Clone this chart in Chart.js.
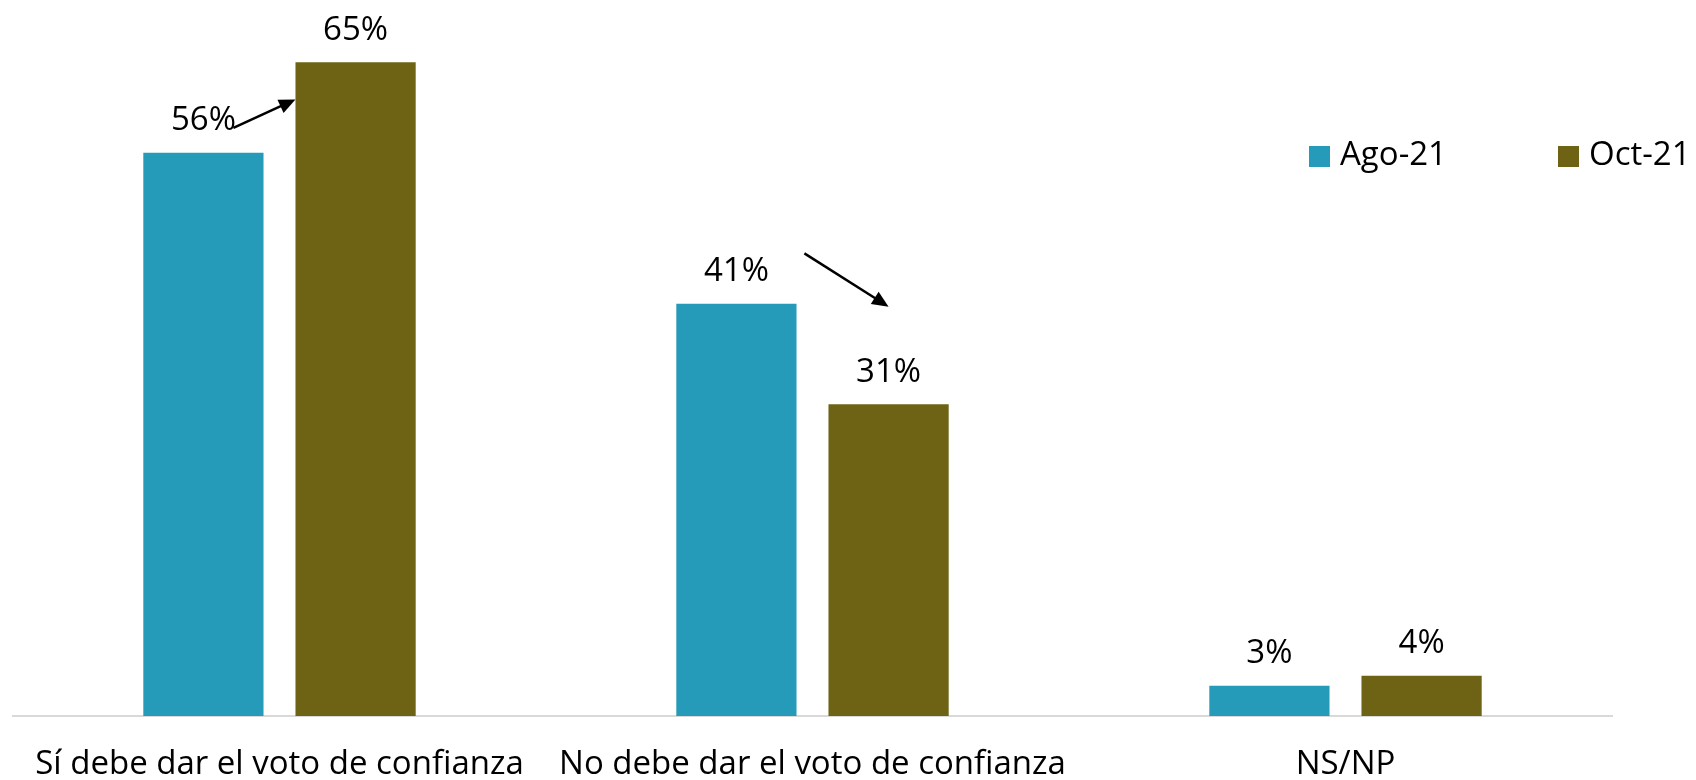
<!DOCTYPE html>
<html>
<head>
<meta charset="utf-8">
<script src="https://cdn.jsdelivr.net/npm/chart.js@4.4.1/dist/chart.umd.min.js"></script>
<style>
  html, body { margin: 0; padding: 0; background: #fff; }
  #wrap { width: 1696px; height: 780px; }
</style>
</head>
<body>
<div id="wrap"><canvas id="chart"></canvas></div>
<script>
const categories = ['Sí debe dar el voto de confianza', 'No debe dar el voto de confianza', 'NS/NP'];
const seriesNames = ['Ago-21', 'Oct-21'];
const ago21 = [56, 41, 3];
const oct21 = [65, 31, 4];
const colors = ['#259bb9', '#6e6314'];

const FONT = '"Open Sans", sans-serif';

// value labels above each bar
const barLabels = {
    id: 'barLabels',
    afterDatasetsDraw(chart) {
        const ctx = chart.ctx;
        ctx.save();
        ctx.fillStyle = '#000';
        ctx.font = '33px ' + FONT;
        ctx.textAlign = 'center';
        ctx.textBaseline = 'middle';
        chart.data.datasets.forEach((ds, i) => {
            chart.getDatasetMeta(i).data.forEach((bar, j) => {
                ctx.fillText(ds.data[j] + '%', bar.x, bar.y - 32);
            });
        });
        ctx.restore();
    }
};

function drawArrow(ctx, x1, y1, x2, y2) {
    const ang = Math.atan2(y2 - y1, x2 - x1);
    const head = 18;
    ctx.beginPath();
    ctx.moveTo(x1, y1);
    ctx.lineTo(x2 - Math.cos(ang) * head * 0.8, y2 - Math.sin(ang) * head * 0.8);
    ctx.stroke();
    ctx.beginPath();
    ctx.moveTo(x2, y2);
    ctx.lineTo(x2 - head * Math.cos(ang - 0.42), y2 - head * Math.sin(ang - 0.42));
    ctx.lineTo(x2 - head * Math.cos(ang + 0.42), y2 - head * Math.sin(ang + 0.42));
    ctx.closePath();
    ctx.fill();
}

// change arrows between the two surveys
const arrows = {
    id: 'arrows',
    afterDatasetsDraw(chart) {
        const ctx = chart.ctx;
        const y = chart.scales.y;
        const a = chart.getDatasetMeta(0).data;
        const b = chart.getDatasetMeta(1).data;
        ctx.save();
        ctx.strokeStyle = '#000';
        ctx.fillStyle = '#000';
        ctx.lineWidth = 2.5;
        // up arrow: from 56% label to the Oct bar
        drawArrow(ctx, a[0].x + 30, y.getPixelForValue(ago21[0]) - 25,
                  b[0].x - b[0].width / 2, y.getPixelForValue(61.3));
        // down arrow: over the No group
        drawArrow(ctx, a[1].x + 68, y.getPixelForValue(46),
                  b[1].x, y.getPixelForValue(40.7));
        ctx.restore();
    }
};

// legend in the top right
const legendBox = {
    id: 'legendBox',
    afterDraw(chart) {
        const ctx = chart.ctx;
        ctx.save();
        ctx.font = '33px ' + FONT;
        ctx.textBaseline = 'middle';
        const xs = [1309, 1558];
        const cy = 156;
        seriesNames.forEach((name, i) => {
            ctx.fillStyle = colors[i];
            ctx.fillRect(xs[i], cy - 10, 21, 21);
            ctx.fillStyle = '#000';
            ctx.fillText(name, xs[i] + 31, cy);
        });
        ctx.restore();
    }
};

new Chart(document.getElementById('chart'), {
    type: 'bar',
    data: {
        labels: categories,
        datasets: [
            { label: seriesNames[0], data: ago21, backgroundColor: colors[0] },
            { label: seriesNames[1], data: oct21, backgroundColor: colors[1] }
        ]
    },
    options: {
        responsive: true,
        maintainAspectRatio: false,
        animation: false,
        devicePixelRatio: 1,
        layout: { padding: { left: 13, right: 84, top: 12, bottom: 0 } },
        categoryPercentage: 0.571,
        barPercentage: 0.79,
        plugins: {
            legend: { display: false },
            tooltip: { enabled: false }
        },
        scales: {
            x: {
                grid: { display: false },
                border: { color: '#d9d9d9', width: 2 },
                afterFit: (scale) => { scale.height = 64; },
                ticks: {
                    color: '#000',
                    padding: 21,
                    font: { family: FONT, size: 33 },
                    maxRotation: 0,
                    autoSkip: false
                }
            },
            y: {
                display: false,
                min: 0,
                max: 70
            }
        }
    },
    plugins: [barLabels, arrows, legendBox]
});
</script>
</body>
</html>
